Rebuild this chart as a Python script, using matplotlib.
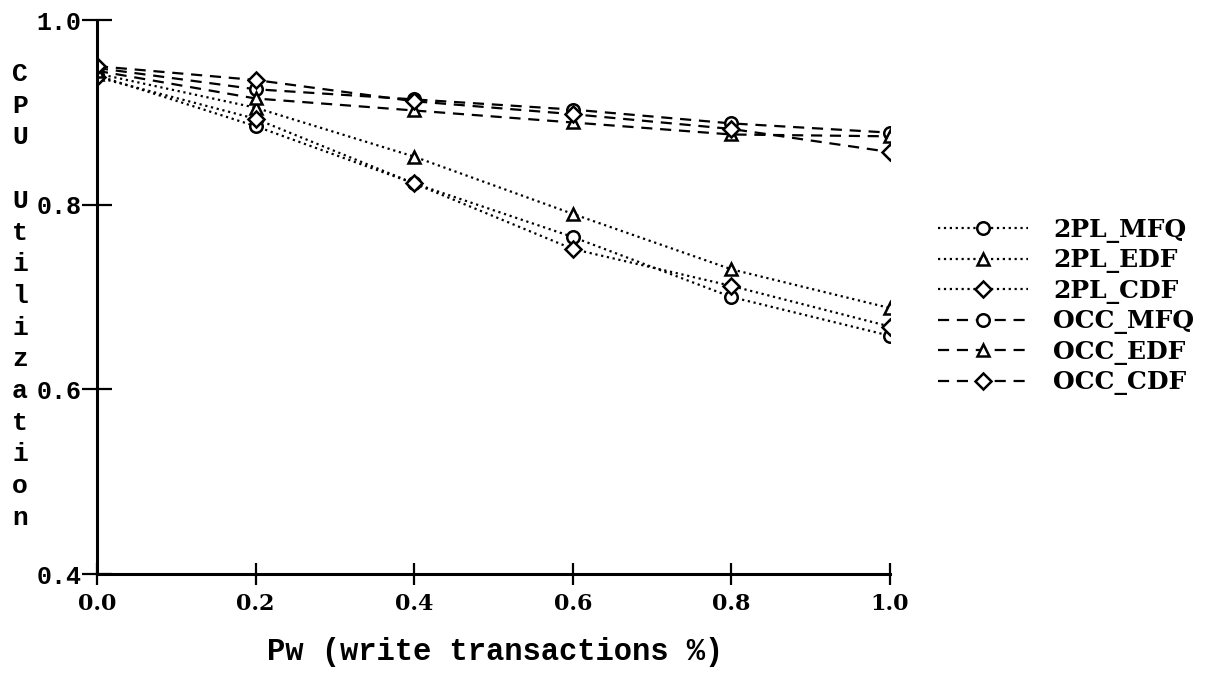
import matplotlib.pyplot as plt

# Pw values on the x axis
pw = [0.0, 0.2, 0.4, 0.6, 0.8, 1.0]

# CPU utilization
pl_mfq = [0.940, 0.885, 0.823, 0.765, 0.700, 0.658]
pl_edf = [0.942, 0.905, 0.852, 0.790, 0.730, 0.688]
pl_cdf = [0.938, 0.893, 0.823, 0.752, 0.712, 0.668]
occ_mfq = [0.948, 0.925, 0.914, 0.903, 0.888, 0.878]
occ_edf = [0.945, 0.915, 0.902, 0.889, 0.876, 0.874]
occ_cdf = [0.950, 0.935, 0.912, 0.898, 0.882, 0.857]

x_ticks = [0.0, 0.2, 0.4, 0.6, 0.8, 1.0]
y_ticks = [0.4, 0.6, 0.8, 1.0]

W, H = 1208, 693
fig = plt.figure(figsize=(W / 100, H / 100), dpi=100)
ax = fig.add_axes([97 / W, 1 - 574 / H, (890 - 97) / W, (574 - 20) / H])

series = [
    (pl_mfq, "2PL_MFQ", "o", ":"),
    (pl_edf, "2PL_EDF", "^", ":"),
    (pl_cdf, "2PL_CDF", "D", ":"),
    (occ_mfq, "OCC_MFQ", "o", "--"),
    (occ_edf, "OCC_EDF", "^", "--"),
    (occ_cdf, "OCC_CDF", "D", "--"),
]

for vals, name, mk, ls in series:
    kw = dict(color="black", linestyle=ls, linewidth=1.6, marker=mk,
              markersize=9 if mk != "D" else 8, markerfacecolor="white",
              markeredgecolor="black", markeredgewidth=1.8, label=name)
    if ls == "--":
        kw["dashes"] = (5, 3.5)
    line, = ax.plot(pw, vals, **kw)
    line.set_clip_path(ax.patch)

ax.set_xlim(0, 1.0)
ax.set_ylim(0.4, 1.0)
ax.set_xticks(x_ticks)
ax.set_yticks(y_ticks)
ax.set_xticklabels([f"{v:.1f}" for v in x_ticks],
                   fontfamily="DejaVu Serif", fontweight="bold", fontsize=16)
ax.set_yticklabels([f"{v:.1f}" for v in y_ticks],
                   fontfamily="Liberation Mono", fontweight="bold", fontsize=18)
ax.tick_params(axis="y", direction="inout", length=22, width=1.6, pad=0)
ax.tick_params(axis="x", direction="inout", length=16, width=1.6, pad=6)

for s in ["top", "right"]:
    ax.spines[s].set_visible(False)
for s in ["left", "bottom"]:
    ax.spines[s].set_linewidth(2.2)

# vertical stacked y label
label = "CPU Utilization"
for i, ch in enumerate(label):
    fig.text(20 / W, 1 - (74 + i * 31.7) / H, ch, ha="center", va="center",
             fontfamily="Liberation Mono", fontweight="bold", fontsize=19)

fig.text(495 / W, 1 - 652 / H, "Pw (write transactions %)",
         ha="center", va="center",
         fontfamily="Liberation Mono", fontweight="bold", fontsize=22)

leg = ax.legend(loc="upper left", bbox_to_anchor=(938 / W, 1 - 218 / H),
                bbox_transform=fig.transFigure, frameon=False,
                borderpad=0, borderaxespad=0,
                prop={"family": "DejaVu Serif", "weight": "bold", "size": 18},
                handlelength=3.6, labelspacing=0.22, handletextpad=1.0)

fig.savefig("out.png", dpi=100)
